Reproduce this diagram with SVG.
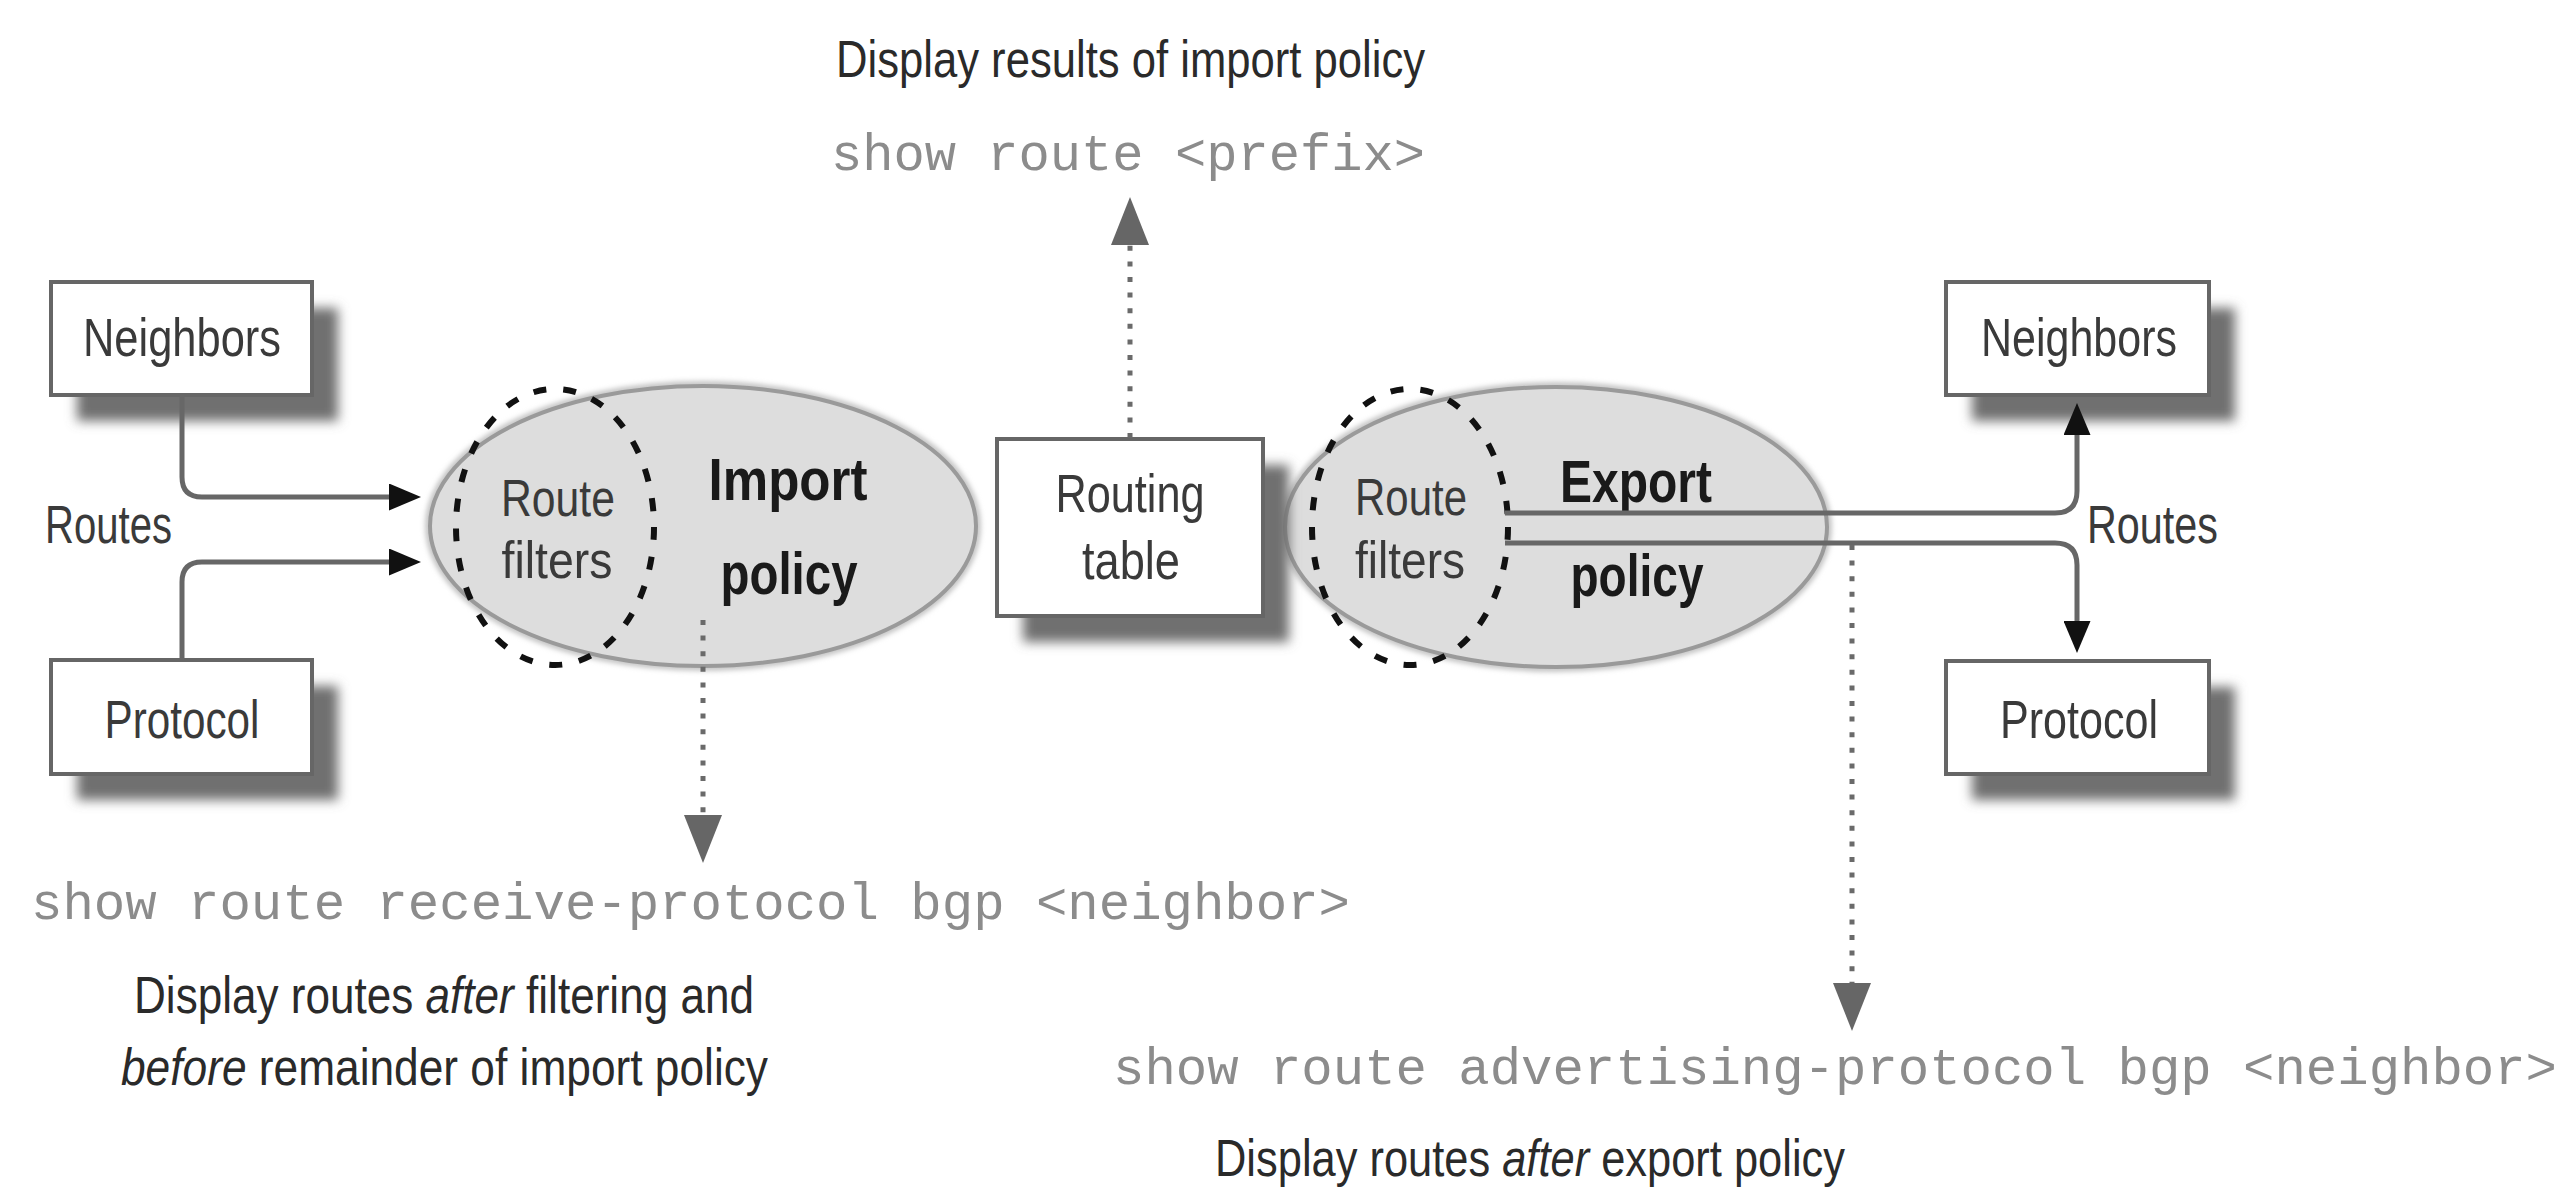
<svg xmlns="http://www.w3.org/2000/svg" width="2569" height="1192" viewBox="0 0 2569 1192">
  <defs>
    <style>
      .box { fill: #ffffff; stroke: #666666; stroke-width: 4; }
      .shadow { fill: #707070; filter: url(#soft); }
      .policy { fill: #dddddd; stroke: #9a9a9a; stroke-width: 4; }
      .halo { fill: none; stroke: #c4c4c4; stroke-width: 8; filter: url(#haze); }
      .filter { fill: none; stroke: #111111; stroke-width: 6; stroke-dasharray: 13 17; }
      .flow { fill: none; stroke: #676767; stroke-width: 5; }
      .probe { fill: none; stroke: #6a6a6a; stroke-width: 5; stroke-dasharray: 5 10.6; }
      .lbl { font-family: "Liberation Sans", Arial, sans-serif; font-size: 54px; fill: #3a3a3a; text-anchor: middle; }
      .rf { font-family: "Liberation Sans", Arial, sans-serif; font-size: 52px; fill: #3a3a3a; text-anchor: middle; }
      .big { font-family: "Liberation Sans", Arial, sans-serif; font-size: 60px; font-weight: bold; fill: #1a1a1a; text-anchor: middle; }
      .note { font-family: "Liberation Sans", Arial, sans-serif; font-size: 52px; fill: #2a2a2a; }
      .cmd { font-family: "Liberation Mono", "Courier New", monospace; font-size: 52px; fill: #8c8c8c; }
      .side { font-family: "Liberation Sans", Arial, sans-serif; font-size: 54px; fill: #3a3a3a; }
    </style>
    <filter id="soft" x="-20%" y="-20%" width="140%" height="140%">
      <feGaussianBlur stdDeviation="6"/>
    </filter>
    <filter id="haze" x="-10%" y="-10%" width="120%" height="120%">
      <feGaussianBlur stdDeviation="2.5"/>
    </filter>
    <marker id="head" markerUnits="userSpaceOnUse" markerWidth="32" markerHeight="27" refX="0" refY="13.5" orient="auto">
      <path d="M0,0 L32,13.5 L0,27 z" fill="#111111"/>
    </marker>
    <marker id="dothead" markerUnits="userSpaceOnUse" markerWidth="48" markerHeight="38" refX="0" refY="19" orient="auto">
      <path d="M0,0 L48,19 L0,38 z" fill="#666666"/>
    </marker>
  </defs>

  <rect width="2569" height="1192" fill="#ffffff"/>

  <!-- import policy: ellipse with route filters stage -->
  <g id="import-policy">
    <ellipse class="halo" cx="703" cy="526" rx="274" ry="141"/>
    <ellipse class="policy" cx="703" cy="526" rx="273" ry="140"/>
    <ellipse class="filter" cx="555" cy="527" rx="99" ry="138"/>
    <text class="rf" x="558" y="516" textLength="114" lengthAdjust="spacingAndGlyphs">Route</text>
    <text class="rf" x="557" y="578" textLength="111" lengthAdjust="spacingAndGlyphs">filters</text>
    <text class="big" x="788" y="500" textLength="159" lengthAdjust="spacingAndGlyphs">Import</text>
    <text class="big" x="789" y="594" textLength="137" lengthAdjust="spacingAndGlyphs">policy</text>
  </g>

  <!-- export policy: ellipse with route filters stage -->
  <g id="export-policy">
    <ellipse class="halo" cx="1556" cy="527" rx="272" ry="141"/>
    <ellipse class="policy" cx="1556" cy="527" rx="271" ry="140"/>
    <ellipse class="filter" cx="1410" cy="527" rx="98" ry="138"/>
    <text class="rf" x="1411" y="515" textLength="112" lengthAdjust="spacingAndGlyphs">Route</text>
    <text class="rf" x="1410" y="578" textLength="110" lengthAdjust="spacingAndGlyphs">filters</text>
    <text class="big" x="1636" y="502" textLength="152" lengthAdjust="spacingAndGlyphs">Export</text>
    <text class="big" x="1637" y="596" textLength="133" lengthAdjust="spacingAndGlyphs">policy</text>
  </g>

  <!-- source boxes on the left -->
  <g id="neighbors-in">
    <rect class="shadow" x="77" y="308" width="261" height="113"/>
    <rect class="box" x="51" y="282" width="261" height="113"/>
    <text class="lbl" x="182" y="356" textLength="198" lengthAdjust="spacingAndGlyphs">Neighbors</text>
  </g>
  <g id="protocol-in">
    <rect class="shadow" x="77" y="686" width="261" height="114"/>
    <rect class="box" x="51" y="660" width="261" height="114"/>
    <text class="lbl" x="182" y="738" textLength="155" lengthAdjust="spacingAndGlyphs">Protocol</text>
  </g>

  <!-- routing table -->
  <g id="routing-table">
    <rect class="shadow" x="1023" y="465" width="266" height="177"/>
    <rect class="box" x="997" y="439" width="266" height="177"/>
    <text class="lbl" x="1130" y="512" textLength="149" lengthAdjust="spacingAndGlyphs">Routing</text>
    <text class="lbl" x="1131" y="579" textLength="98" lengthAdjust="spacingAndGlyphs">table</text>
  </g>

  <!-- destination boxes on the right -->
  <g id="neighbors-out">
    <rect class="shadow" x="1972" y="308" width="263" height="113"/>
    <rect class="box" x="1946" y="282" width="263" height="113"/>
    <text class="lbl" x="2079" y="356" textLength="196" lengthAdjust="spacingAndGlyphs">Neighbors</text>
  </g>
  <g id="protocol-out">
    <rect class="shadow" x="1972" y="687" width="263" height="113"/>
    <rect class="box" x="1946" y="661" width="263" height="113"/>
    <text class="lbl" x="2079" y="738" textLength="158" lengthAdjust="spacingAndGlyphs">Protocol</text>
  </g>

  <!-- route flows and show-command probes -->
  <g id="connectors">
    <path class="flow" d="M182,395 V477 Q182,497 202,497 H389" marker-end="url(#head)"/>
    <path class="flow" d="M182,660 V582 Q182,562 202,562 H389" marker-end="url(#head)"/>
    <path class="flow" d="M1505,513 H2055 Q2077,513 2077,491 V435" marker-end="url(#head)"/>
    <path class="flow" d="M1505,543 H2055 Q2077,543 2077,565 V621" marker-end="url(#head)"/>
    <path class="probe" d="M1130,438 V245" marker-end="url(#dothead)"/>
    <path class="probe" d="M703,620 V815" marker-end="url(#dothead)"/>
    <path class="probe" d="M1852,545 V983" marker-end="url(#dothead)"/>
  </g>

  <!-- side labels -->
  <text class="side" x="45" y="543" textLength="127" lengthAdjust="spacingAndGlyphs">Routes</text>
  <text class="side" x="2087" y="543" textLength="131" lengthAdjust="spacingAndGlyphs">Routes</text>

  <!-- command annotations -->
  <text class="note" x="836" y="77" font-size="50" textLength="589" lengthAdjust="spacingAndGlyphs">Display results of import policy</text>
  <text class="cmd" x="831" y="170" textLength="594" lengthAdjust="spacingAndGlyphs">show route &lt;prefix&gt;</text>

  <text class="cmd" x="31" y="919" textLength="1319" lengthAdjust="spacingAndGlyphs">show route receive-protocol bgp &lt;neighbor&gt;</text>
  <text class="note" x="134" y="1013" textLength="620" lengthAdjust="spacingAndGlyphs">Display routes <tspan font-style="italic">after</tspan> filtering and</text>
  <text class="note" x="121" y="1085" textLength="647" lengthAdjust="spacingAndGlyphs"><tspan font-style="italic">before</tspan> remainder of import policy</text>

  <text class="cmd" x="1113" y="1084" textLength="1444" lengthAdjust="spacingAndGlyphs">show route advertising-protocol bgp &lt;neighbor&gt;</text>
  <text class="note" x="1215" y="1176" textLength="630" lengthAdjust="spacingAndGlyphs">Display routes <tspan font-style="italic">after</tspan> export policy</text>
</svg>
